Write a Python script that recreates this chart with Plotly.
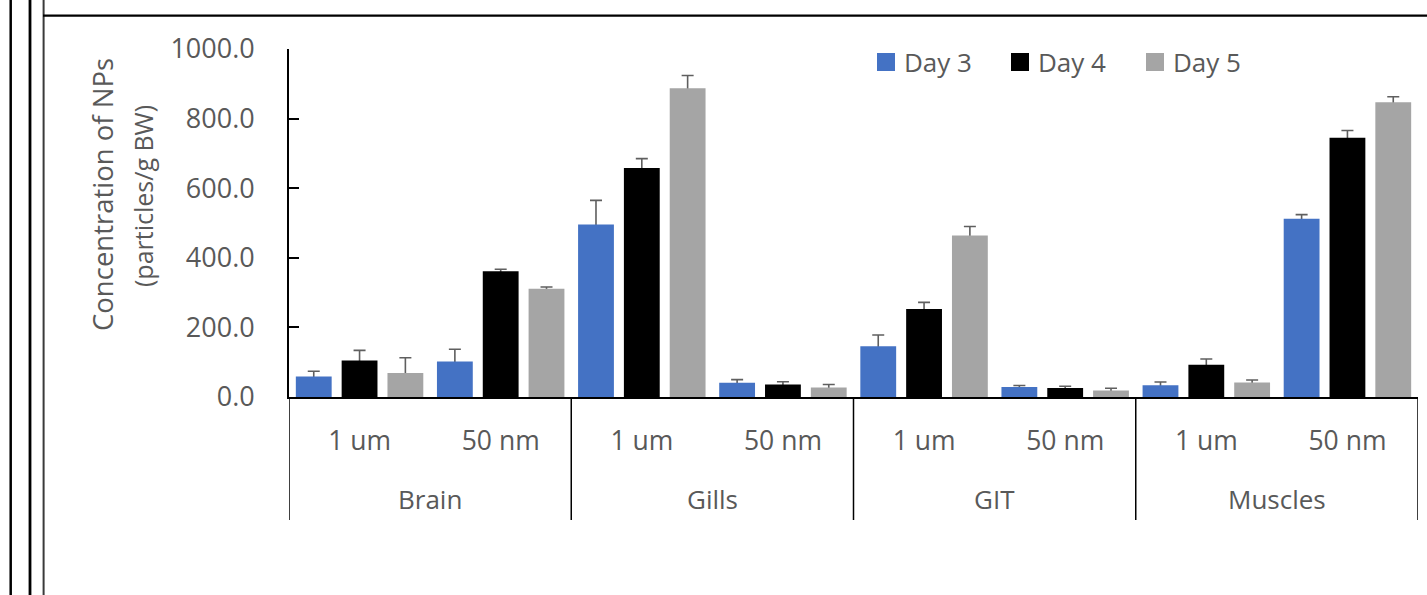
import plotly.graph_objects as go

# ---------------- data ----------------
groups = ["Brain", "Gills", "GIT", "Muscles"]
sizes = ["1 um", "50 nm"]
series_names = ["Day 3", "Day 4", "Day 5"]
series_colors = ["#4472C4", "#000000", "#A5A5A5"]

day3 = [59, 102, 496, 41, 146, 29, 34, 512]
day3_err = [15, 35, 69, 9, 32, 4, 9, 12]
day4 = [105, 361, 658, 36, 253, 26, 93, 745]
day4_err = [29, 6, 27, 8, 19, 5, 16, 21]
day5 = [69, 311, 887, 27, 464, 19, 42, 847]
day5_err = [44, 5, 37, 9, 26, 6, 7, 16]

y_ticks = [0, 200, 400, 600, 800, 1000]
y_title_1 = "Concentration of NPs"
y_title_2 = "(particles/g BW)"

# ---------------- layout constants (pixels) ----------------
W, H = 1427, 595
L, R, T, B = 289, 9, 49, 198
PW, PH = W - L - R, H - T - B
FONT = "Open Sans"
TXT = "#595959"


def px_x(px):
    return (px - L) / PW


def px_y(py):
    return (H - B - py) / PH


x_idx = list(range(len(groups) * len(sizes)))
x_text = [s for g in groups for s in sizes]

values = [day3, day4, day5]
errors = [day3_err, day4_err, day5_err]

fig = go.Figure()

# invisible carrier traces for the error bars (drawn first, so real bars hide the stems)
for name, vals, errs in zip(series_names, values, errors):
    fig.add_trace(go.Bar(
        x=x_idx, y=vals, name=name, offsetgroup=name, showlegend=False,
        marker=dict(color="rgba(0,0,0,0)", line=dict(width=0)),
        error_y=dict(type="data", symmetric=False, array=errs, arrayminus=vals,
                     color="#5f5f5f", thickness=1.6, width=6),
        hoverinfo="skip",
    ))

for name, vals, col in zip(series_names, values, series_colors):
    fig.add_trace(go.Bar(
        x=x_idx, y=vals, name=name, offsetgroup=name, showlegend=False,
        marker=dict(color=col, line=dict(width=0)),
    ))

shapes = []
# group dividers below the axis
for k in range(len(groups) + 1):
    shapes.append(dict(type="line", xref="x", yref="paper",
                       x0=-0.5 + 2 * k, x1=-0.5 + 2 * k, y0=0, y1=px_y(520),
                       line=dict(color="black", width=1.5)))

# decorative frame lines
for fx, fw, fc in [(10.7, 2.5, "black"), (30, 2.8, "black"), (43.6, 2, "#3a3a3a")]:
    shapes.append(dict(type="line", xref="paper", yref="paper",
                       x0=px_x(fx), x1=px_x(fx), y0=px_y(0), y1=px_y(H),
                       line=dict(color=fc, width=fw)))
shapes.append(dict(type="line", xref="paper", yref="paper",
                   x0=px_x(43), x1=px_x(W), y0=px_y(15.7), y1=px_y(15.7),
                   line=dict(color="black", width=2.2)))

annotations = []
# legend (manual)
legend_sq_left = [877, 1011, 1146]
for name, col, sx in zip(series_names, series_colors, legend_sq_left):
    shapes.append(dict(type="rect", xref="paper", yref="paper",
                       x0=px_x(sx), x1=px_x(sx + 18), y0=px_y(71), y1=px_y(53),
                       line=dict(width=0), fillcolor=col))
    annotations.append(dict(text=name, xref="paper", yref="paper",
                            x=px_x(sx + 25), y=px_y(61.5), xanchor="left", yanchor="middle",
                            showarrow=False, font=dict(family=FONT, size=26, color=TXT)))

# group labels
for i, g in enumerate(groups):
    annotations.append(dict(text=g, xref="x", yref="paper", x=2 * i + 0.5, y=px_y(499),
                            xanchor="center", yanchor="middle", showarrow=False,
                            font=dict(family=FONT, size=26, color=TXT)))

# y axis title (two lines, different sizes)
annotations.append(dict(text=y_title_1, xref="paper", yref="paper", x=px_x(102), y=px_y(195),
                        xanchor="center", yanchor="middle", textangle=-90, showarrow=False,
                        font=dict(family=FONT, size=27.5, color=TXT)))
annotations.append(dict(text=y_title_2, xref="paper", yref="paper", x=px_x(143), y=px_y(196),
                        xanchor="center", yanchor="middle", textangle=-90, showarrow=False,
                        font=dict(family=FONT, size=25, color=TXT)))

fig.update_layout(
    width=W, height=H, autosize=False,
    margin=dict(l=L, r=R, t=T, b=B, pad=0),
    paper_bgcolor="white", plot_bgcolor="white",
    barmode="group", bargap=0.026, bargroupgap=0.218,
    showlegend=False,
    shapes=shapes, annotations=annotations,
    xaxis=dict(range=[-0.5, 7.5], tickmode="array", tickvals=x_idx, ticktext=x_text,
               ticks="", showline=True, linecolor="black", linewidth=1.8,
               showgrid=False, zeroline=False, ticklabelstandoff=19,
               tickfont=dict(family=FONT, size=26.5, color=TXT)),
    yaxis=dict(range=[0, 1000], tickmode="array", tickvals=y_ticks, tickformat=".1f",
               ticks="inside", ticklen=10, tickwidth=1.8, tickcolor="black",
               showline=True, linecolor="black", linewidth=1.8,
               showgrid=False, zeroline=False, ticklabelstandoff=27,
               tickfont=dict(family=FONT, size=27, color=TXT)),
)

fig.write_html("out.html", config={"displayModeBar": False},
               post_script="document.body.style.margin='0';")
